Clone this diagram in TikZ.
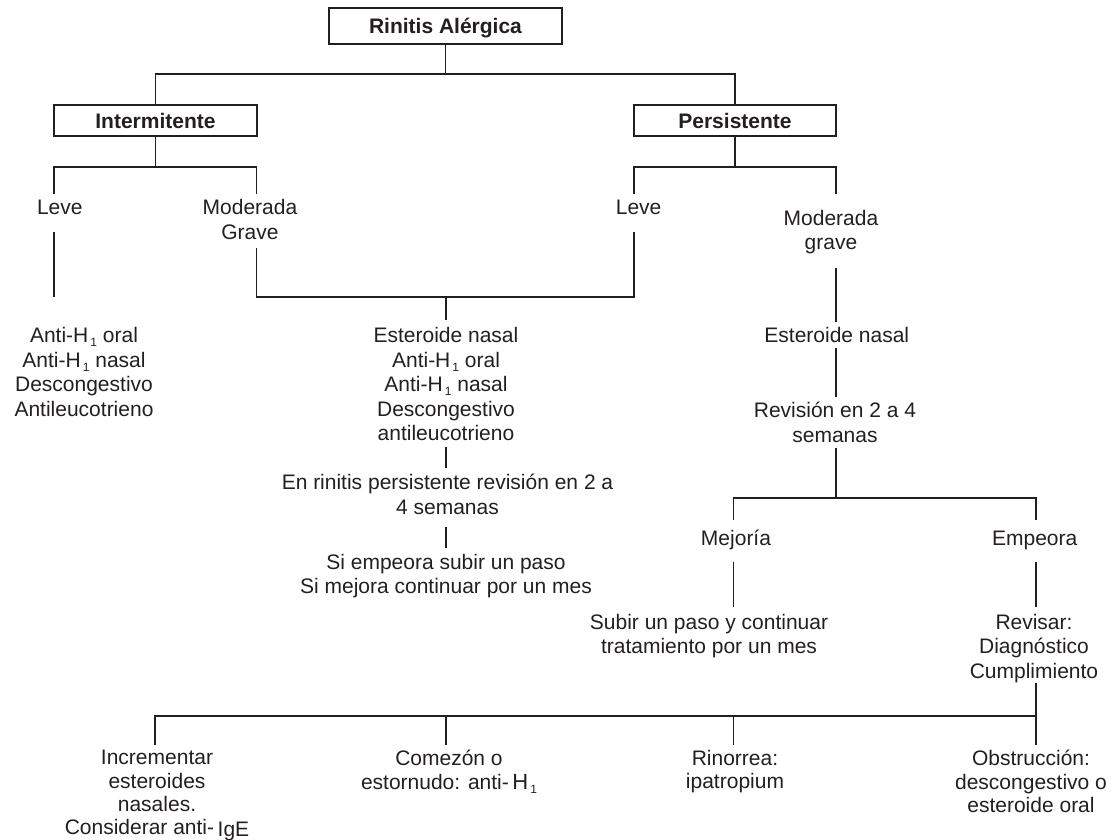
\documentclass[tikz,border=0pt]{standalone}
\usepackage{fontspec}
\setmainfont{Liberation Sans}
\definecolor{ink}{RGB}{35,31,32}
\newcommand{\hsub}[1]{\raisebox{-0.35ex}{\fontsize{12}{12}\selectfont\,#1}}
\begin{document}
\begin{tikzpicture}[x=1pt,y=-1pt,
  lbl/.style={inner sep=0pt, align=center, font=\fontsize{21}{24.5}\selectfont, text=ink},
  tight/.style={font=\fontsize{21}{23.3}\selectfont},
  hbox/.style={draw=ink, line width=1.7pt, inner sep=0pt, text height=15.2pt, text depth=0pt,
               font=\bfseries\fontsize{21}{24.5}\selectfont, text=ink},
  ln/.style={draw=ink, line width=1.7pt}]
\useasboundingbox (0,0) rectangle (1112,839);

% boxes
\node[hbox, minimum width=233pt, minimum height=36pt] (ra) at (445.5,26.2) {Rinitis Alérgica};
\node[hbox, minimum width=202.5pt, minimum height=31pt] (int) at (155.5,120.8) {Intermitente};
\node[hbox, minimum width=202pt, minimum height=31pt] (per) at (735,120.8) {Persistente};

% labels
\node[lbl, anchor=base] (leve1) at (59.8,214.5) {Leve};
\node[lbl, anchor=north] (mg1) at (250,199.2) {Moderada\\Grave};
\node[lbl, anchor=base] (leve2) at (638.6,214.5) {Leve};
\node[lbl, anchor=north] (mg2) at (831,209.7) {Moderada\\grave};
\node[lbl, anchor=north] (c1) at (84,327.2) {Anti-H\hsub{1} oral\\Anti-H\hsub{1} nasal\\Descongestivo\\Antileucotrieno};
\node[lbl, anchor=north] (c2) at (446,327.2) {Esteroide nasal\\Anti-H\hsub{1} oral\\Anti-H\hsub{1} nasal\\Descongestivo\\antileucotrieno};
\node[lbl, anchor=base] (c3) at (836.8,342.5) {Esteroide nasal};
\node[lbl, anchor=north] (rev) at (835,402.2) {Revisión en 2 a 4\\semanas};
\node[lbl, anchor=north] (enr) at (447.5,474) {En rinitis persistente revisión en 2 a\\4 semanas};
\node[lbl, anchor=north] (si) at (446,554) {Si empeora subir un paso\\Si mejora continuar por un mes};
\node[lbl, anchor=base] (mej) at (736,545.5) {Mejoría};
\node[lbl, anchor=base] (emp) at (1034.7,545.5) {Empeora};
\node[lbl, anchor=north] (sub) at (709,614) {Subir un paso y continuar\\tratamiento por un mes};
\node[lbl, anchor=north] (revs) at (1034,614) {Revisar:\\Diagnóstico\\Cumplimiento};
\node[lbl, tight, anchor=north] (inc) at (157,750.2) {Incrementar\\esteroides\\nasales.\\Considerar anti-\,\raisebox{-1.5pt}{IgE}};
\node[lbl, tight, anchor=north] (com) at (449,750.2) {Comezón o\\estornudo: anti-\,{\fontsize{22}{23.3}\selectfont H}\hsub{1}};
\node[lbl, tight, anchor=north] (rin) at (735,750.2) {Rinorrea:\\ipatropium};
\node[lbl, tight, anchor=north] (obs) at (1031,750.2) {Obstrucción:\\descongestivo o\\esteroide oral};

% junctions and free ends
\coordinate (j0) at (445.5,73.7);
\coordinate (j1) at (155.5,167);
\coordinate (b1) at (54,194.3);
\coordinate (b2) at (256.5,194.3);
\coordinate (j3) at (735,167);
\coordinate (b3) at (634,194.3);
\coordinate (b4) at (836,194.3);
\coordinate (v1a) at (54,232);
\coordinate (v1b) at (54,297);
\coordinate (g1) at (256.5,248);
\coordinate (l2) at (634,232);
\coordinate (j2) at (446,297);
\coordinate (c2t) at (446,320);
\coordinate (m2a) at (836,268);
\coordinate (m2b) at (836,322);
\coordinate (e1) at (836,348);
\coordinate (e2) at (836,397);
\coordinate (r1) at (836,447.7);
\coordinate (j4) at (836,497.7);
\coordinate (mb) at (733.5,520);
\coordinate (eb) at (1036,520);
\coordinate (ma) at (733.5,561.7);
\coordinate (mz) at (733.5,606.7);
\coordinate (ea) at (1036,561.7);
\coordinate (ez) at (1036,606.7);
\coordinate (s1) at (446,446.7);
\coordinate (s2) at (446,468);
\coordinate (s3) at (446,526.7);
\coordinate (s4) at (446,548);
\coordinate (cu) at (1036,682.7);
\coordinate (j5) at (1036,716);
\coordinate (ob) at (1036,745);
\coordinate (ib) at (155,745);
\coordinate (cj) at (446,716);
\coordinate (cb) at (446,745);
\coordinate (rj) at (733.5,716);
\coordinate (rb) at (733.5,745);

% connectors
\draw[ln] (ra.south) -- (j0);
\draw[ln] (int.north) |- (j0) -| (per.north);
\draw[ln] (int.south) -- (j1);
\draw[ln] (b1) |- (j1) -| (b2);
\draw[ln] (per.south) -- (j3);
\draw[ln] (b3) |- (j3) -| (b4);
\draw[ln] (v1a) -- (v1b);
\draw[ln] (g1) |- (j2) -| (l2);
\draw[ln] (j2) -- (c2t);
\draw[ln] (m2a) -- (m2b);
\draw[ln] (e1) -- (e2);
\draw[ln] (r1) -- (j4);
\draw[ln] (mb) |- (j4) -| (eb);
\draw[ln] (ma) -- (mz);
\draw[ln] (ea) -- (ez);
\draw[ln] (s1) -- (s2);
\draw[ln] (s3) -- (s4);
\draw[ln] (cu) -- (ob);
\draw[ln] (ib) |- (j5);
\draw[ln] (cj) -- (cb);
\draw[ln] (rj) -- (rb);
\end{tikzpicture}
\end{document}
